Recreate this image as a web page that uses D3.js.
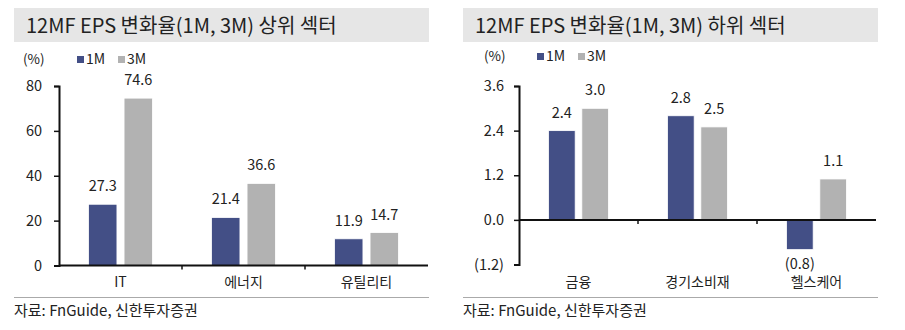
<!DOCTYPE html>
<html><head><meta charset="utf-8">
<script src="https://cdn.jsdelivr.net/npm/d3@7"></script>
<style>
body{margin:0;background:#fff;}
svg text{font-family:"Noto Sans CJK KR","Noto Sans",sans-serif;fill:#222;}
</style></head>
<body><svg id="c" width="905" height="330"></svg>
<script>
const series = ["1M","3M"];
const colors = ["#434f86","#b2b2b2"];
const topTitle = "12MF EPS 변화율(1M, 3M) 상위 섹터";
const topCats = ["IT","에너지","유틸리티"];
const top1M = [27.3,21.4,11.9];
const top3M = [74.6,36.6,14.7];
const topTicks = [0,20,40,60,80];
const botTitle = "12MF EPS 변화율(1M, 3M) 하위 섹터";
const botCats = ["금융","경기소비재","헬스케어"];
const bot1M = [2.4,2.8,-0.8];
const bot3M = [3.0,2.5,1.1];
const botTicks = [-1.2,0,1.2,2.4,3.6];
const source = "자료: FnGuide, 신한투자증권";

const svg = d3.select("#c");
const fmtNeg = d => d < 0 ? "(" + d3.format(".1f")(-d) + ")" : d3.format(".1f")(d);

function panel(o){
  const g = svg.append("g");
  g.append("rect").attr("x",o.x0).attr("y",8).attr("width",o.w).attr("height",34).attr("fill","#e6e6e6");
  g.append("text").attr("x",o.x0+12).attr("y",33).attr("font-size",20).text(o.title);
  g.append("text").attr("x",o.unitX).attr("y",o.legY+5).attr("font-size",13.5).text("(%)");
  series.forEach((s,i)=>{
    const lx = o.legX + i*41;
    g.append("rect").attr("x",lx).attr("y",o.legY-3).attr("width",7).attr("height",7).attr("fill",colors[i]);
    g.append("text").attr("x",lx+9).attr("y",o.legY+5).attr("font-size",14).text(s);
  });
  const y = d3.scaleLinear().domain(o.ydom).range([o.yb,o.yt]);
  const x0 = d3.scaleBand().domain(o.cats).range([o.ax, o.axEnd]);
  const x1 = d3.scaleBand().domain(series).range([x0.bandwidth()/2 - o.grp/2, x0.bandwidth()/2 + o.grp/2]).paddingInner(0.2);
  o.cats.forEach((c,ci)=>{
    [o.v1,o.v2].forEach((vals,si)=>{
      const v = vals[ci];
      const bx = x0(c)+x1(series[si]);
      const y0 = y(0), yv = y(v);
      g.append("rect").attr("x",bx).attr("y",Math.min(y0,yv)).attr("width",x1.bandwidth())
        .attr("height",Math.abs(y0-yv)).attr("fill",colors[si]).attr("stroke","#fff").attr("stroke-width",0.8);
      g.append("text").attr("x",bx+x1.bandwidth()/2).attr("y", v>=0 ? yv-13 : yv+19)
        .attr("text-anchor","middle").attr("font-size",14.5).text(fmtNeg(v));
    });
  });
  const ya = d3.axisLeft(y).tickValues(o.ticks).tickSize(5).tickPadding(o.tp).tickFormat(o.fmt);
  const yg = g.append("g").attr("transform",`translate(${o.ax},0)`).call(ya);
  yg.select(".domain").attr("stroke","#111").attr("stroke-width",2);
  yg.selectAll(".tick line").attr("stroke","#111").attr("stroke-width",1.5);
  yg.selectAll(".tick text").attr("font-size",14.5).attr("fill","#222").attr("font-family",null);
  const xa = d3.axisBottom(x0).tickSize(4).tickFormat("");
  const xg = g.append("g").attr("transform",`translate(0,${y(0)})`).call(xa);
  xg.select(".domain").attr("stroke","#111").attr("stroke-width",2).attr("d",`M${o.ax},0H${o.axEnd}`);
  xg.selectAll(".tick").remove();
  x0.domain().forEach((c,i)=>{
    const tx = x0(c);
    if(i>0) xg.append("line").attr("x1",tx).attr("x2",tx).attr("y1",0).attr("y2",4).attr("stroke","#111").attr("stroke-width",1.5);
  });
  o.cats.forEach(c=>{
    g.append("text").attr("x",x0(c)+x0.bandwidth()/2).attr("y",287).attr("text-anchor","middle").attr("font-size",14).text(c);
  });
  g.append("line").attr("x1",o.x0).attr("x2",o.x0+o.w).attr("y1",297.5).attr("y2",297.5).attr("stroke","#aaa").attr("stroke-width",1);
  g.append("text").attr("x",o.x0).attr("y",316).attr("font-size",15).text(source);
}

panel({x0:14,w:415,title:topTitle,unitX:23,legX:77,legY:59,ydom:[0,80],yb:265.5,yt:86,
  cats:topCats,v1:top1M,v2:top3M,ax:59,axEnd:428,grp:64,ticks:topTicks,tp:12,fmt:d=>d3.format("d")(d)});
panel({x0:463,w:415,title:botTitle,unitX:484,legX:537,legY:56,ydom:[-1.2,3.6],yb:264.5,yt:86,
  cats:botCats,v1:bot1M,v2:bot3M,ax:519,axEnd:876,grp:60,ticks:botTicks,tp:10,fmt:fmtNeg});
</script></body></html>
